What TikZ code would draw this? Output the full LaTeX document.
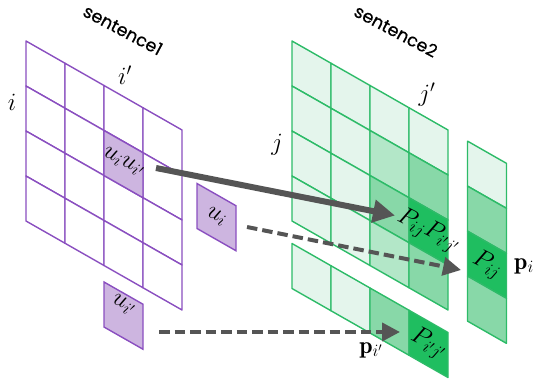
\documentclass[tikz,border=0pt]{standalone}
\usepackage{fontspec}
\newfontfamily\titlefont[FakeBold=0.6]{Poppins}
\DeclareMathSizes{24}{24}{18}{13}
\usetikzlibrary{arrows.meta}
\definecolor{pstroke}{HTML}{8A4FC0}
\definecolor{pfill}{HTML}{CDB5E0}
\definecolor{gstroke}{HTML}{2DBB68}
\definecolor{gL}{HTML}{E4F5EC}
\definecolor{gML}{HTML}{B3E7C8}
\definecolor{gM}{HTML}{88D8A8}
\definecolor{gD}{HTML}{1FBE60}
\definecolor{arrowgray}{HTML}{555555}
% cell: origin x, origin y, column, row, fill, stroke
\newcommand\gcell[6]{%
  \filldraw[fill=#5,draw=#6,line width=1.4pt,line join=round]
    ({#1+39*#3},{#2+22.25*#3+45*#4}) -- ++(39,22.25) -- ++(0,45) -- ++(-39,-22.25) -- cycle;}
\begin{document}
\begin{tikzpicture}[x=1pt,y=-1pt,
  mathlabel/.style={font=\fontsize{24}{28}\selectfont, inner sep=0pt},
  celltext/.style={mathlabel, rotate=-27},
  titletext/.style={font=\titlefont\fontsize{17.5}{20}\selectfont, rotate=-28, inner sep=0pt},
  bigarrow/.style={draw=arrowgray, line width=6pt, -{Triangle[length=22pt,width=22pt]}},
  dasharrow/.style={draw=arrowgray, line width=4pt, dash pattern=on 10.5pt off 5pt, -{Triangle[length=18pt,width=18pt]}}]
\useasboundingbox (0,0) rectangle (537,387);

% ---------- left grid (sentence1) ----------
\foreach \c in {0,...,3}{\foreach \r in {0,...,3}{\gcell{26}{41}{\c}{\r}{white}{pstroke}}}
\gcell{26}{41}{2}{1}{pfill}{pstroke}
% small boxes
\filldraw[fill=pfill,draw=pstroke,line width=1.4pt] (197,183.5) -- ++(39,22.25) -- ++(0,45) -- ++(-39,-22.25) -- cycle;
\filldraw[fill=pfill,draw=pstroke,line width=1.4pt] (104,282) -- ++(39,22.25) -- ++(0,45) -- ++(-39,-22.25) -- cycle;

% ---------- right grid (sentence2) ----------
\foreach \c in {0,1}{\foreach \r in {0,...,3}{\gcell{292}{41}{\c}{\r}{gL}{gstroke}}}
\gcell{292}{41}{2}{0}{gL}{gstroke}
\gcell{292}{41}{2}{1}{gML}{gstroke}
\gcell{292}{41}{2}{2}{gM}{gstroke}
\gcell{292}{41}{2}{3}{gML}{gstroke}
\gcell{292}{41}{3}{0}{gL}{gstroke}
\gcell{292}{41}{3}{1}{gM}{gstroke}
\gcell{292}{41}{3}{2}{gD}{gstroke}
\gcell{292}{41}{3}{3}{gM}{gstroke}
% lower strip
\gcell{292}{41}{0}{4.5}{gL}{gstroke}
\gcell{292}{41}{1}{4.5}{gL}{gstroke}
\gcell{292}{41}{2}{4.5}{gM}{gstroke}
\gcell{292}{41}{3}{4.5}{gD}{gstroke}
% vector p_i
\gcell{292}{41}{4.5}{0}{gL}{gstroke}
\gcell{292}{41}{4.5}{1}{gM}{gstroke}
\gcell{292}{41}{4.5}{2}{gD}{gstroke}
\gcell{292}{41}{4.5}{3}{gM}{gstroke}

% ---------- texts ----------
\node[titletext] (s1) at (123,30) {sentence1};
\node[titletext] (s2) at (396,31) {sentence2};
\node[mathlabel] (li) at (12,102) {$i$};
\node[mathlabel] (lip) at (125,75) {$i'$};
\node[mathlabel] (lj) at (277,145) {$j$};
\node[mathlabel] (ljp) at (427,95) {$j'$};
\node[celltext] (uu) at (123.5,162) {$u_iu_{i'}$};
\node[celltext] (ui) at (216.5,216.5) {$u_i$};
\node[celltext] (uip) at (123.5,305) {$u_{i'}$};
\node[celltext] (PP) at (428.5,231) {$P_{ij}P_{i'j'}$};
\node[celltext] (Pv) at (487,265) {$P_{ij}$};
\node[celltext] (Ppp) at (428.5,344) {$P_{i'j'}$};
\node[mathlabel] (pi) at (524,266) {$\mathbf{p}_i$};
\node[mathlabel] (pip) at (371,350) {$\mathbf{p}_{i'}$};

% ---------- arrows ----------
\coordinate (a1s) at (156,168);
\coordinate (a1e) at (395,215.5);
\coordinate (a2s) at (247,227);
\coordinate (a2e) at (461,270);
\coordinate (a3s) at (159,332);
\coordinate (a3e) at (400,332);
\draw[bigarrow] (a1s) -- (a1e);
\draw[dasharrow] (a2s) -- (a2e);
\draw[dasharrow] (a3s) -- (a3e);
\end{tikzpicture}
\end{document}
